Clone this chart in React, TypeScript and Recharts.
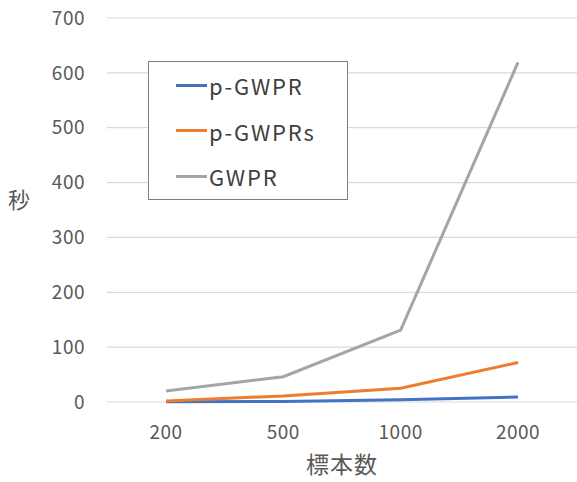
import React from 'react';
import { LineChart, Line, XAxis, YAxis, CartesianGrid } from 'recharts';

// 標本数ごとの計算時間（秒）
const sampleSizes = ['200', '500', '1000', '2000'];
const pGwpr = [0.5, 1, 4, 9];
const pGwprs = [2, 11, 25, 72];
const gwpr = [20, 46, 131, 619];
const yTicks = [0, 100, 200, 300, 400, 500, 600, 700];

const series = [
    { key: 'p-GWPR', values: pGwpr, color: '#4472C4' },
    { key: 'p-GWPRs', values: pGwprs, color: '#ED7D31' },
    { key: 'GWPR', values: gwpr, color: '#A5A5A5' },
];

const data = sampleSizes.map((n, i) => {
    const row: Record<string, string | number> = { n };
    series.forEach((s) => {
        row[s.key] = s.values[i];
    });
    return row;
});

const FONT = '"Noto Sans CJK JP", "Noto Sans", sans-serif';

// 枠付きの凡例（グラフ左上に重ねる）
const LegendBox = () => (
    <div
        style={{
            position: 'absolute',
            left: 148,
            top: 61,
            width: 200,
            height: 139,
            boxSizing: 'border-box',
            border: '1px solid #7f7f7f',
            background: '#fff',
        }}
    >
        {series.map((s, i) => (
            <div
                key={s.key}
                style={{
                    position: 'absolute',
                    left: 27,
                    top: 9 + i * 45.5,
                    display: 'flex',
                    alignItems: 'center',
                    height: 28,
                }}
            >
                <span style={{ display: 'inline-block', width: 31, height: 3, background: s.color }} />
                <span
                    style={{
                        fontFamily: FONT,
                        fontSize: 22,
                        letterSpacing: 1.8,
                        color: '#404040',
                        marginLeft: 2,
                    }}
                >
                    {s.key}
                </span>
            </div>
        ))}
    </div>
);

const App: React.FC = () => {
    return (
        <div style={{ position: 'relative', width: 577, height: 482, background: '#fff' }}>
            <style>{'body{margin:0}'}</style>
            <LineChart width={577} height={482} data={data} margin={{ top: 18, right: 0, left: 0, bottom: 0 }}>
                <CartesianGrid vertical={false} stroke="#d9d9d9" strokeWidth={1.2} />
                <XAxis
                    dataKey="n"
                    axisLine={false}
                    tickLine={false}
                    tickSize={0}
                    tickMargin={24}
                    height={80}
                    padding={{ left: 59, right: 59 }}
                    tick={{ fontSize: 19, fill: '#595959', fontFamily: FONT, letterSpacing: 0.5 }}
                    label={{
                        value: '標本数',
                        position: 'insideBottom',
                        offset: 9,
                        style: { fontSize: 23, fill: '#595959', fontFamily: FONT, letterSpacing: 1 },
                    }}
                />
                <YAxis
                    domain={[0, 700]}
                    ticks={yTicks}
                    axisLine={false}
                    tickLine={false}
                    tickSize={0}
                    tickMargin={22}
                    width={107}
                    tick={{ fontSize: 19, fill: '#595959', fontFamily: FONT, letterSpacing: 0.5 }}
                    label={{
                        value: '秒',
                        position: 'insideLeft',
                        offset: 8,
                        dy: -10,
                        style: { fontSize: 22, fill: '#595959', fontFamily: FONT },
                    }}
                />
                {series.map((s) => (
                    <Line
                        key={s.key}
                        dataKey={s.key}
                        stroke={s.color}
                        strokeWidth={3}
                        dot={false}
                        isAnimationActive={false}
                    />
                ))}
            </LineChart>
            <LegendBox />
        </div>
    );
};

export default App;
